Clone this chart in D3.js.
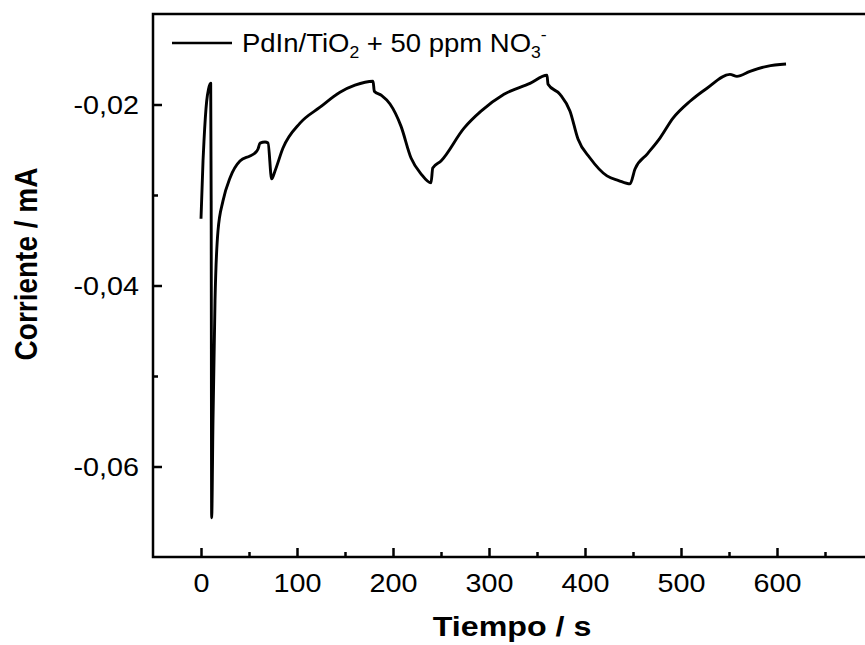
<!DOCTYPE html>
<html lang="en">
<head>
    <meta charset="UTF-8">
    <title>Corriente vs Tiempo</title>
    <script src="https://cdn.jsdelivr.net/npm/d3@7/dist/d3.min.js"></script>
    <style>
        body { margin: 0; background: #fff; }
        text { font-family: "Liberation Sans", Arial, sans-serif; fill: #000; }
    </style>
</head>
<body>
    <svg width="865" height="645" id="mainsvg"></svg>
    <script>
        // datos
        const tiempo = [0, 2.1, 3.1, 5.9, 7.8, 10.1, 10.6, 11.1, 12.5, 14.6, 17.7, 22.9, 30.2, 40.6, 51, 56.3,
            59.4, 61.5, 66.7, 69.8, 73.6, 77.1, 85.4, 103.1, 124, 144.8, 160.4, 179.2, 180.5, 188, 196.9, 208.3,
            218.8, 229.2, 239.6, 241.4, 250, 274, 291.7, 315.6, 342.7, 360.4, 361.5, 374, 384.4, 392.7,
            405.2, 422.9, 435, 446.9, 452.1, 465, 478.1, 491.7, 509.4, 527.1, 551, 558.3, 571.9, 589.6, 609.4];
        const corriente = [-0.03263, -0.02624, -0.02404, -0.01964, -0.01832, -0.01765, -0.03065, -0.06566,
            -0.05487, -0.04166, -0.03395, -0.03065, -0.02811, -0.02624, -0.02569, -0.02536, -0.02492, -0.02426,
            -0.02415, -0.02426, -0.02822, -0.02734, -0.02481, -0.02206, -0.0203, -0.01865, -0.01787, -0.01743,
            -0.01853, -0.01900, -0.01995, -0.02239, -0.02591, -0.02767, -0.02866, -0.02701, -0.02624, -0.02261,
            -0.02074, -0.01887, -0.01766, -0.01677, -0.01776, -0.01887, -0.02074, -0.02382, -0.02591, -0.02789,
            -0.02840, -0.02877, -0.02712, -0.02545, -0.02371, -0.02151, -0.01964, -0.0182, -0.01667, -0.01689,
            -0.01634, -0.01578, -0.01553];

        const xMajor = [0, 100, 200, 300, 400, 500, 600];
        const xMinor = [50, 150, 250, 350, 450, 550, 650];
        const yMajor = [-0.02, -0.04, -0.06];
        const yMinor = [-0.03, -0.05];

        const svg = d3.select('#mainsvg');
        const stretch = 1.15;

        const x = d3.scaleLinear().domain([-50, 700]).range([153, 873]);
        const y = d3.scaleLinear().domain([-0.07, -0.01]).range([557, 14]);

        const fmt = d => d.toFixed(2).replace('.', ',');

        // marco
        svg.append('rect')
            .attr('x', x(-50)).attr('y', y(-0.01))
            .attr('width', x(700) - x(-50)).attr('height', y(-0.07) - y(-0.01))
            .attr('fill', 'none').attr('stroke', '#000').attr('stroke-width', 2.5);

        // eje x
        const gx = svg.append('g').attr('transform', `translate(0,${y(-0.07)})`);
        gx.call(d3.axisBottom(x).tickValues(xMajor).tickSize(-9).tickFormat(d => d));
        gx.append('g').call(d3.axisBottom(x).tickValues(xMinor).tickSize(-5).tickFormat(''));
        gx.selectAll('.domain').remove();
        gx.selectAll('line').attr('stroke', '#000').attr('stroke-width', 2.5);
        gx.selectAll('text')
            .attr('y', 0).attr('dy', null)
            .attr('transform', `translate(0,35) scale(${stretch},1)`)
            .attr('font-size', 25).attr('text-anchor', 'middle')
            .style('font-family', '"Liberation Sans", Arial, sans-serif');

        // eje y
        const gy = svg.append('g').attr('transform', `translate(${x(-50)},0)`);
        gy.call(d3.axisLeft(y).tickValues(yMajor).tickSize(-9).tickFormat(fmt));
        gy.append('g').call(d3.axisLeft(y).tickValues(yMinor).tickSize(-5).tickFormat(''));
        gy.selectAll('.domain').remove();
        gy.selectAll('line').attr('stroke', '#000').attr('stroke-width', 2.5);
        gy.selectAll('text')
            .attr('x', 0).attr('dy', '0.36em')
            .attr('transform', `translate(-14,0) scale(${stretch},1)`)
            .attr('font-size', 25).attr('text-anchor', 'end')
            .style('font-family', '"Liberation Sans", Arial, sans-serif');

        // curva
        const line = d3.line()
            .x((d, i) => x(tiempo[i]))
            .y(d => y(d))
            .curve(d3.curveMonotoneX);

        svg.append('path')
            .datum(corriente)
            .attr('d', line)
            .attr('fill', 'none')
            .attr('stroke', '#000')
            .attr('stroke-width', 2.9)
            .attr('stroke-linejoin', 'round');

        // titulos
        svg.append('text')
            .attr('transform', `translate(512,636) scale(${stretch},1)`)
            .attr('text-anchor', 'middle')
            .attr('font-size', 28).attr('font-weight', 'bold')
            .text('Tiempo / s');

        svg.append('text')
            .attr('transform', `translate(37,264) scale(${stretch},1) rotate(-90)`)
            .attr('text-anchor', 'middle')
            .attr('font-size', 28).attr('font-weight', 'bold')
            .text('Corriente / mA');

        // leyenda
        svg.append('line')
            .attr('x1', 172).attr('x2', 232).attr('y1', 43).attr('y2', 43)
            .attr('stroke', '#000').attr('stroke-width', 2.7);

        const leg = svg.append('text')
            .attr('transform', `translate(242,52) scale(1.1,1)`)
            .attr('font-size', 25);
        leg.append('tspan').text('PdIn/TiO');
        leg.append('tspan').attr('font-size', 16).attr('dy', 6).text('2');
        leg.append('tspan').attr('dy', -6).text(' + 50 ppm NO');
        leg.append('tspan').attr('font-size', 16).attr('dy', 6).text('3');
        leg.append('tspan').attr('font-size', 16).attr('dy', -18).text('-');
    </script>
</body>
</html>
